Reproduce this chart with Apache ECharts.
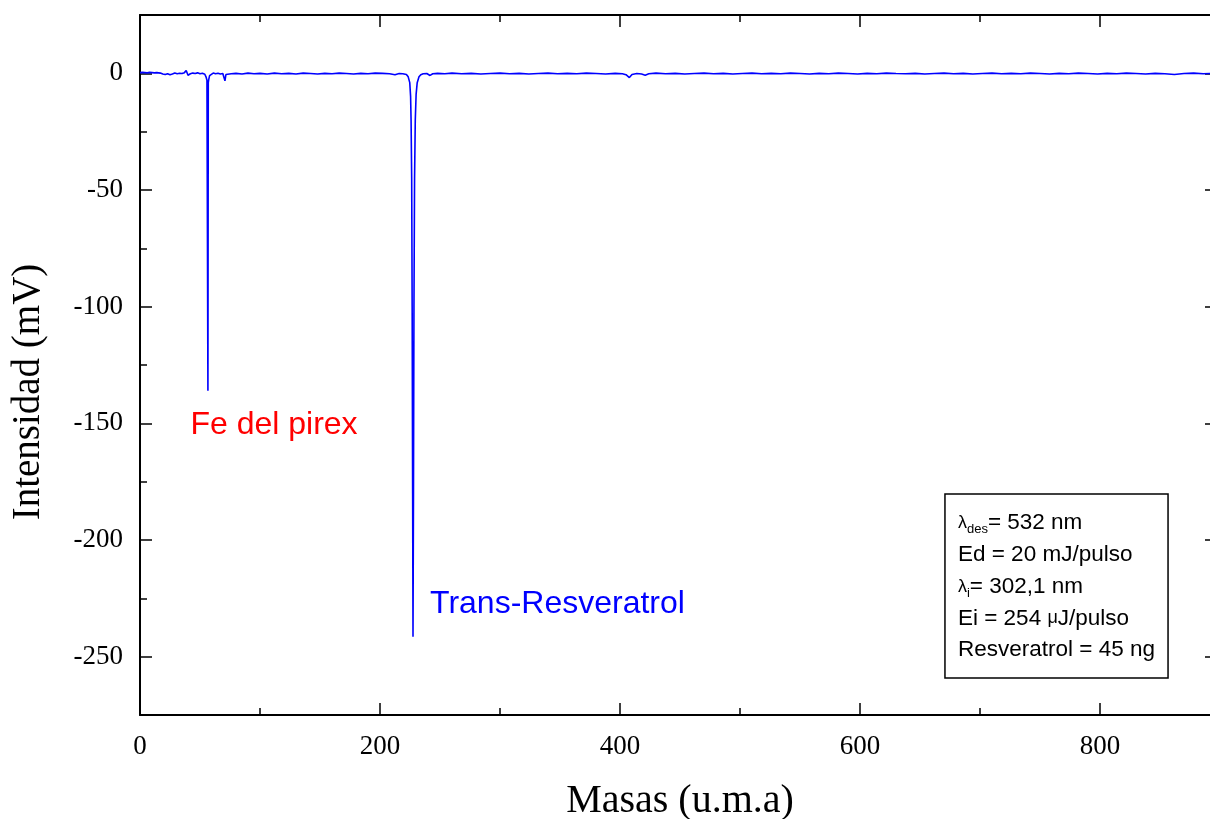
<!DOCTYPE html>
<html>
<head>
<meta charset="utf-8">
<script src="https://cdn.jsdelivr.net/npm/echarts@6/dist/echarts.min.js"></script>
<style>
  html, body { margin: 0; padding: 0; background: #ffffff; }
  #chart { width: 1210px; height: 819px; }
</style>
</head>
<body>
<div id="chart"></div>
<script>
// Mass spectrum: time-of-flight signal (mV) against mass (u.m.a)
const masses = [
  0, 1, 2, 3, 4, 5, 6, 7, 8, 9, 10, 11, 12, 13, 14, 15,
  17, 19, 21, 23, 25, 27, 29, 31, 33, 35, 37, 38.5, 40, 42, 44, 46, 48, 50, 52, 54,
  55, 55.8, 56.3, 56.6, 56.9, 57.3, 58, 59,
  61, 63, 65, 67, 69, 70, 70.8, 71.6, 73, 76, 80, 85, 90, 95, 100, 106, 112, 118, 124, 130,
  136, 142, 148, 154, 160, 166, 172, 178, 184, 190, 196, 202, 208, 212.5, 216, 219, 222,
  223.5, 224.8, 225.5, 225.9, 226.4, 226.8, 227.2, 227.5, 227.9, 228.3, 228.8, 229.4, 230.1,
  231, 232.5, 234, 236, 239, 241.7, 244,
  248, 254, 260, 268, 276, 284, 292, 300, 308, 316, 324, 332, 340, 348, 356, 364, 372, 380,
  388, 396, 402, 405, 407.8, 410, 414, 418, 421, 424, 430, 438, 446, 454, 462, 470, 478, 486,
  494, 502, 510, 518, 526, 534, 542, 550, 558, 566, 574, 582, 590, 598, 606, 614, 622, 630,
  638, 646, 654, 662, 670, 678, 686, 694, 702, 710, 718, 726, 734, 742, 750, 758, 766, 774,
  782, 790, 798, 806, 814, 822, 830, 838, 846, 854, 862, 870, 878, 886, 895
];
const intensities = [
  0.3, -0.4, 0.4, -0.3, 0.3, -0.4, 0.2, -0.3, 0.4, -0.2, 0.3, -0.4, 0.2, -0.3, 0.3, -0.2,
  0.1, -0.3, -0.5, -0.2, -0.6, -0.3, 0.1, -0.2, 0.0, -0.1, 0.3, 1.2, -0.8, -0.2, 0.1, -0.1, 0.2, -0.2, 0.0, -0.4,
  -1.5, -3.0, -3.6, -136, -4.0, -2.6, -1.0, -0.2,
  0.1, -0.2, 0.0, -0.3, -0.1, -0.6, -3.2, -0.5, 0.1, -0.2, 0.0, -0.3, 0.1, -0.2, 0.0, -0.3, 0.1, -0.2, 0.0, -0.3,
  0.1, -0.1, -0.3, 0.0, -0.2, 0.1, -0.1, -0.3, 0.0, -0.2, 0.1, 0.0, -0.2, -0.6, -0.1, -0.2, -0.5,
  -1.5, -4, -10, -20, -45, -100, -180, -241.5, -180, -100, -45, -20, -9,
  -4, -1.5, -0.6, -0.2, -0.1, -0.9, -0.2,
  0.0, -0.2, 0.1, -0.2, 0.0, -0.3, -0.1, 0.1, -0.2, 0.0, -0.3, -0.1, 0.1, -0.2, 0.0, -0.2, 0.1, -0.1,
  -0.3, 0.0, -0.2, -0.6, -1.8, -0.5, -0.1, -0.3, -0.8, -0.2, 0.1, -0.2, 0.0, -0.3, -0.1, 0.1, -0.2, 0.0,
  -0.3, -0.1, 0.1, -0.2, 0.0, -0.2, 0.1, -0.1, -0.3, 0.0, -0.2, 0.1, -0.1, -0.3, 0.0, -0.2, 0.1, -0.1,
  -0.2, 0.0, -0.3, -0.1, 0.1, -0.2, 0.0, -0.3, -0.1, 0.1, -0.2, 0.0, -0.2, 0.1, -0.1, -0.3, 0.0, -0.2,
  0.1, -0.1, -0.3, 0.0, -0.2, 0.1, -0.1, -0.3, 0.0, -0.2, -0.5, -0.1, 0.1, -0.2, 0.0
];
const xLabelValues = [0, 200, 400, 600, 800];
const yLabelValues = [-250, -200, -150, -100, -50, 0];

// Peak annotations, anchored at [mass, intensity] (left edge, vertical centre)
const peakLabels = [
  { text: 'Fe del pirex', at: [42, -150.7], color: '#ff0000' },
  { text: 'Trans-Resveratrol', at: [241.7, -227.4], color: '#0000ff' }
];
// Acquisition conditions shown in the framed box
const conditionLines = [
  '{g|λ}{sub|des}{t|= 532 nm}',
  '{t|Ed = 20 mJ/pulso}',
  '{g|λ}{sub|i}{t|= 302,1 nm}',
  '{t|Ei = 254 }{g|μ}{t|J/pulso}',
  '{t|Resveratrol = 45 ng}'
];

const serif = "'Liberation Serif', 'Times New Roman', serif";
const sans = "'Liberation Sans', Arial, sans-serif";
const black = { color: '#000000', width: 2 };
const tickStyle = { color: '#000000', width: 1.5 };

function xAxisDef(position, major, withLabels) {
  return {
    type: 'value', position: position, min: 0, max: 900,
    interval: major ? undefined : 100,
    axisLine: { show: !major, onZero: false, lineStyle: black },
    axisTick: major
      ? { show: true, inside: true, length: 12, customValues: xLabelValues, lineStyle: tickStyle }
      : { show: true, inside: true, length: 7, lineStyle: tickStyle },
    axisLabel: withLabels
      ? { show: true, customValues: xLabelValues, margin: 18, color: '#000', fontFamily: serif, fontSize: 27 }
      : { show: false },
    splitLine: { show: false },
    name: withLabels ? 'Masas (u.m.a)' : '',
    nameLocation: 'middle', nameGap: 66,
    nameTextStyle: { color: '#000', fontFamily: serif, fontSize: 40 }
  };
}
function yAxisDef(position, major, withLabels) {
  return {
    type: 'value', position: position, min: -275, max: 25,
    interval: major ? undefined : 25,
    axisLine: { show: !major, onZero: false, lineStyle: black },
    axisTick: major
      ? { show: true, inside: true, length: position === 'right' ? 15 : 12, customValues: yLabelValues, lineStyle: tickStyle }
      : { show: true, inside: true, length: 7, lineStyle: tickStyle },
    axisLabel: withLabels
      ? { show: true, customValues: yLabelValues, margin: 17, color: '#000', fontFamily: serif, fontSize: 27 }
      : { show: false },
    splitLine: { show: false },
    name: withLabels ? 'Intensidad (mV)' : '',
    nameLocation: 'middle', nameGap: 92,
    nameTextStyle: { color: '#000', fontFamily: serif, fontSize: 39, padding: [0, 54, 0, 0] }
  };
}

const chart = echarts.init(document.getElementById('chart'), null, { renderer: 'canvas' });
chart.setOption({
  animation: false,
  backgroundColor: '#ffffff',
  // the plot frame runs slightly past the right edge of the canvas
  grid: { left: 140, top: 15, width: 1080, height: 700, containLabel: false, outerBoundsMode: 'none' },
  xAxis: [
    xAxisDef('bottom', false, false),
    xAxisDef('bottom', true, true),
    xAxisDef('top', false, false),
    xAxisDef('top', true, false)
  ],
  yAxis: [
    yAxisDef('left', false, false),
    yAxisDef('left', true, true),
    yAxisDef('right', false, false),
    yAxisDef('right', true, false)
  ],
  series: [{
    type: 'line',
    xAxisIndex: 0, yAxisIndex: 0,
    data: masses.map((m, i) => [m, intensities[i]]),
    showSymbol: false,
    symbol: 'none',
    lineStyle: { color: '#0000ff', width: 1.6 },
    clip: true
  }]
});

// Text annotations and the conditions box, placed through the axis scales
const toPx = (pt) => chart.convertToPixel({ xAxisIndex: 0, yAxisIndex: 0 }, pt);
const boxTopLeft = toPx([670.8, -180.3]);
const boxBottomRight = toPx([856.7, -259.1]);
const graphics = peakLabels.map((lab) => {
  const p = toPx(lab.at);
  return {
    type: 'text', x: p[0], y: p[1], silent: true,
    style: { text: lab.text, fill: lab.color, font: '32px ' + sans, verticalAlign: 'middle', align: 'left' }
  };
});
graphics.push({
  type: 'rect', silent: true,
  shape: { x: boxTopLeft[0], y: boxTopLeft[1], width: boxBottomRight[0] - boxTopLeft[0], height: boxBottomRight[1] - boxTopLeft[1] },
  style: { fill: '#ffffff', stroke: '#000000', lineWidth: 1.5 }
});
conditionLines.forEach((line, i) => {
  graphics.push({
    type: 'text', silent: true,
    x: boxTopLeft[0] + 13, y: boxTopLeft[1] + 29 + i * 31.8,
    style: {
      text: line, verticalAlign: 'middle', align: 'left', fill: '#000',
      rich: {
        t: { fontFamily: sans, fontSize: 22.5, lineHeight: 26, fill: '#000' },
        g: { fontFamily: sans, fontSize: 18, lineHeight: 26, fill: '#000' },
        sub: { fontFamily: sans, fontSize: 13, lineHeight: 26, verticalAlign: 'bottom', padding: [11, 0, 0, 0], fill: '#000' }
      }
    }
  });
});
chart.setOption({ graphic: graphics });
</script>
</body>
</html>
